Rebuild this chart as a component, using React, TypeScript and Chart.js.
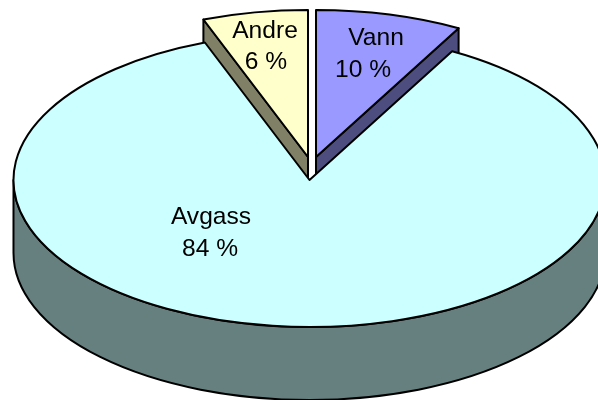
import React, { useEffect, useRef } from "react";
import { Chart, registerables } from "chart.js";

Chart.register(...registerables);

const categories = ["Vann", "Avgass", "Andre"];
const shares = [10, 84, 6];
const percentLabels = ["10 %", "84 %", "6 %"];
const topColors = ["#9999FF", "#CCFFFF", "#FFFFCC"];
const wallColors = ["#4D4D80", "#668080", "#808066"];

const CX = 309.5;
const CY = 180;
const RX = 296;
const TILT = 147 / 296;
const DEPTH = 73;
const FORESHORTEN_RIGHT = 0.8;
const FORESHORTEN_LEFT = 0.958;
const explode = [
  { dx: 6.5, dy: -23 },
  { dx: 0, dy: 0 },
  { dx: -1.5, dy: -23 },
];
const nameAt = [
  { x: 376, y: 38 },
  { x: 211, y: 217 },
  { x: 265, y: 31 },
];
const percentAt = [
  { x: 363, y: 70 },
  { x: 210, y: 249 },
  { x: 266, y: 62 },
];

const warp = (angle: number) => {
  const a = angle + Math.PI / 2;
  const w = a <= Math.PI ? a * FORESHORTEN_RIGHT : 2 * Math.PI - (2 * Math.PI - a) * FORESHORTEN_LEFT;
  return w - Math.PI / 2;
};

const pie3d = {
  id: "pie3d",
  afterDatasetsUpdate(chart: any) {
    chart.getDatasetMeta(0).data.forEach((arc: any, i: number) => {
      const start = warp(arc.startAngle);
      const end = warp(arc.endAngle);
      arc.startAngle = start;
      arc.endAngle = end;
      arc.circumference = end - start;
      arc.outerRadius = RX;
      arc.innerRadius = 0;
      arc.x = CX + explode[i].dx;
      arc.y = (CY + explode[i].dy) / TILT;
    });
  },
  beforeDatasetsDraw(chart: any) {
    const ctx = chart.ctx as CanvasRenderingContext2D;
    const arcs = chart.getDatasetMeta(0).data;
    const ry = RX * TILT;
    ctx.save();
    ctx.lineWidth = 2;
    ctx.strokeStyle = "#000";
    ctx.lineJoin = "round";
    arcs.forEach((arc: any, i: number) => {
      const x = arc.x;
      const y = arc.y * TILT;
      ctx.beginPath();
      if (i === 1) {
        ctx.ellipse(x, y, RX, ry, 0, Math.PI, 0, true);
        ctx.lineTo(x + RX, y + DEPTH);
        ctx.ellipse(x, y + DEPTH, RX, ry, 0, 0, Math.PI, false);
        ctx.closePath();
      } else {
        const edge = i === 0 ? arc.endAngle : arc.startAngle;
        const ex = x + RX * Math.cos(edge);
        const ey = y + ry * Math.sin(edge);
        ctx.moveTo(x, y);
        ctx.lineTo(ex, ey);
        ctx.lineTo(ex, ey + DEPTH);
        ctx.lineTo(x, y + DEPTH);
        ctx.closePath();
      }
      ctx.fillStyle = wallColors[i];
      ctx.fill();
      ctx.stroke();
    });
    ctx.restore();
    ctx.save();
    ctx.scale(1, TILT);
  },
  afterDatasetsDraw(chart: any) {
    const ctx = chart.ctx as CanvasRenderingContext2D;
    ctx.restore();
    const arcs = chart.getDatasetMeta(0).data;
    const ry = RX * TILT;
    ctx.save();
    ctx.lineWidth = 2;
    ctx.strokeStyle = "#000";
    ctx.lineJoin = "round";
    arcs.forEach((arc: any) => {
      const x = arc.x;
      const y = arc.y * TILT;
      ctx.beginPath();
      ctx.moveTo(x, y);
      ctx.ellipse(x, y, RX, ry, 0, arc.startAngle, arc.endAngle);
      ctx.closePath();
      ctx.stroke();
    });
    ctx.fillStyle = "#000";
    ctx.font = '24.6px "Liberation Sans", Arial, sans-serif';
    ctx.textAlign = "center";
    ctx.textBaseline = "middle";
    categories.forEach((name, i) => {
      ctx.fillText(name, nameAt[i].x, nameAt[i].y);
      ctx.fillText(percentLabels[i], percentAt[i].x, percentAt[i].y);
    });
    ctx.restore();
  },
};

export default function App() {
  const ref = useRef<HTMLCanvasElement>(null);
  useEffect(() => {
    const chart = new Chart(ref.current!, {
      type: "pie",
      data: {
        labels: categories,
        datasets: [
          {
            data: shares,
            backgroundColor: topColors,
            borderWidth: 0,
            clip: false,
          } as any,
        ],
      },
      options: {
        animation: false,
        responsive: false,
        plugins: { legend: { display: false }, tooltip: { enabled: false } },
      },
      plugins: [pie3d],
    });
    return () => chart.destroy();
  }, []);
  return (
    <div style={{ position: "fixed", left: 0, top: 0, width: 598, height: 400, background: "#fff", overflow: "hidden" }}>
      <canvas ref={ref} width={598} height={400} style={{ display: "block" }} />
    </div>
  );
}
